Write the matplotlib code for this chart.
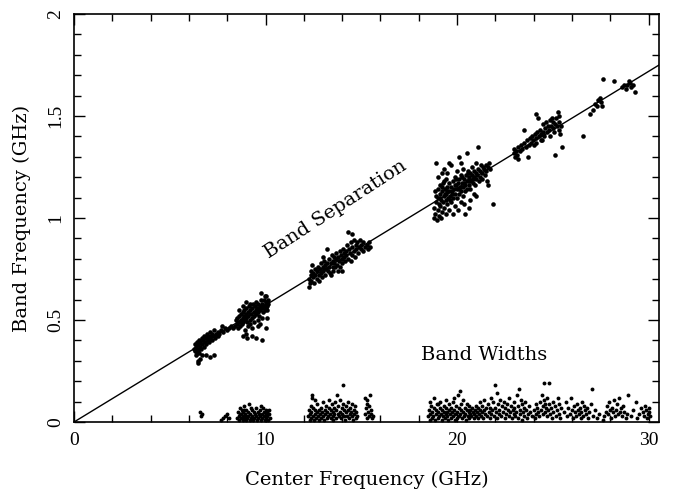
import matplotlib
matplotlib.use("Agg")
import matplotlib.pyplot as plt
from matplotlib.ticker import MultipleLocator

# ---------------- data ----------------
sep_a = [(6.25,0.36),(6.3,0.35),(6.3,0.38),(6.35,0.37),(6.4,0.34),(6.4,0.39),(6.45,0.36),(6.5,0.38),(6.5,0.35),
         (6.55,0.40),(6.6,0.37),(6.6,0.39),(6.65,0.36),(6.7,0.41),(6.7,0.38),(6.75,0.40),(6.8,0.37),(6.8,0.42),
         (6.85,0.39),(6.9,0.41),(6.9,0.38),(6.95,0.43),(7.0,0.40),(7.0,0.42),(7.05,0.39),(7.1,0.41),(7.1,0.44),
         (7.15,0.42),(7.2,0.40),(7.2,0.43),(7.3,0.42),(7.3,0.45),(7.35,0.41),(7.4,0.43),(7.5,0.42),(7.5,0.44),
         (7.55,0.43),(6.45,0.30),(6.5,0.29),(6.6,0.31),(6.7,0.33),(6.9,0.33),(7.1,0.32),(7.3,0.33),(6.35,0.33),
         (6.55,0.34),(7.7,0.45),(7.8,0.44),(7.9,0.46),(8.0,0.45),(8.1,0.46),(8.2,0.47),(8.3,0.46),(7.75,0.47)]
sep_b = [(8.4,0.47),(8.45,0.50),(8.5,0.48),(8.5,0.51),(8.55,0.46),(8.6,0.49),(8.6,0.52),(8.65,0.47),(8.7,0.50),
         (8.7,0.53),(8.75,0.48),(8.8,0.51),(8.8,0.54),(8.85,0.49),(8.9,0.52),(8.9,0.55),(8.95,0.50),(9.0,0.53),
         (9.0,0.51),(9.0,0.56),(9.05,0.49),(9.1,0.54),(9.1,0.52),(9.15,0.57),(9.2,0.50),(9.2,0.55),(9.25,0.53),
         (9.3,0.56),(9.3,0.51),(9.35,0.58),(9.4,0.54),(9.4,0.52),(9.45,0.57),(9.5,0.55),(9.5,0.53),(9.5,0.59),
         (9.55,0.56),(9.6,0.54),(9.6,0.58),(9.65,0.52),(9.7,0.57),(9.7,0.55),(9.75,0.60),(9.8,0.56),(9.8,0.58),
         (9.85,0.54),(9.9,0.57),(9.9,0.60),(9.95,0.55),(10.0,0.58),(10.0,0.56),(10.05,0.59),(10.1,0.57),
         (10.15,0.60),(10.1,0.55),(9.75,0.63),(9.95,0.62),(10.05,0.62),(10.15,0.58),(9.2,0.48),(9.4,0.49),
         (9.6,0.50),(9.1,0.47),(8.95,0.45),(9.3,0.46),(9.7,0.48),(9.8,0.51),(10.1,0.51),(9.6,0.47),
         (8.85,0.42),(9.05,0.41),(9.3,0.42),(9.5,0.41),(9.8,0.40),(9.0,0.43),(10.0,0.46),
         (8.6,0.55),(8.8,0.57),(9.2,0.58),(9.0,0.59)]
sep_c = [(12.25,0.66),(12.25,0.70),(12.3,0.68),(12.35,0.72),(12.4,0.69),(12.4,0.74),(12.5,0.71),(12.5,0.73),
         (12.55,0.68),(12.6,0.75),(12.6,0.72),(12.7,0.70),(12.7,0.74),(12.75,0.76),(12.8,0.72),(12.85,0.75),
         (12.9,0.73),(12.9,0.78),(12.95,0.71),(13.0,0.76),(13.0,0.74),(13.05,0.79),(13.1,0.72),(13.1,0.77),
         (13.15,0.75),(13.2,0.85),(13.2,0.78),(13.25,0.74),(13.3,0.76),(13.3,0.80),(13.35,0.73),(13.4,0.78),
         (13.45,0.82),(13.5,0.76),(13.5,0.79),(13.55,0.74),(13.6,0.81),(13.6,0.78),(13.65,0.76),(13.7,0.80),
         (13.7,0.83),(13.75,0.77),(13.8,0.81),(13.85,0.79),(13.9,0.84),(13.9,0.76),(13.95,0.82),(14.0,0.80),
         (14.0,0.78),(14.05,0.85),(14.1,0.81),(14.1,0.83),(14.15,0.79),(14.2,0.84),(14.2,0.82),(14.25,0.87),
         (14.3,0.93),(14.3,0.80),(14.35,0.85),(14.4,0.83),(14.45,0.88),(14.5,0.92),(14.5,0.82),(14.5,0.86),
         (14.6,0.84),(14.6,0.89),(14.65,0.81),(14.7,0.87),(14.75,0.85),(14.8,0.88),(14.85,0.83),(14.9,0.86),
         (14.95,0.89),(15.0,0.85),(15.0,0.87),(15.1,0.88),(15.1,0.84),(15.2,0.86),(15.3,0.87),(15.35,0.85),
         (15.4,0.88),(15.45,0.86),(14.0,0.74),(13.4,0.72),(13.8,0.74),(12.8,0.69),(12.45,0.77),(14.45,0.79),
         (13.0,0.81)]
sep_d = [(18.8,1.00),(18.8,1.05),(18.85,1.02),(18.9,1.08),(18.9,1.27),(18.9,1.11),(18.95,0.99),(19.0,1.04),
         (19.0,1.10),(19.0,1.14),(19.05,1.07),(19.05,1.01),(19.1,1.12),(19.1,1.06),(19.1,1.16),(19.15,1.09),
         (19.2,1.03),(19.2,1.13),(19.2,1.22),(19.25,1.08),(19.25,1.17),(19.3,1.11),(19.3,1.05),(19.3,1.24),
         (19.35,1.14),(19.4,1.09),(19.4,1.19),(19.4,1.02),(19.45,1.12),(19.5,1.15),(19.5,1.07),(19.5,1.22),
         (19.55,1.10),(19.6,1.13),(19.6,1.17),(19.6,1.04),(19.65,1.11),(19.7,1.15),(19.7,1.08),(19.7,1.26),
         (19.75,1.13),(19.8,1.18),(19.8,1.10),(19.8,1.02),(19.85,1.14),(19.9,1.12),(19.9,1.20),(19.95,1.16),
         (20.0,1.14),(20.0,1.10),(20.0,1.23),(20.05,1.17),(20.05,1.04),(20.1,1.12),(20.1,1.30),(20.1,1.19),
         (20.15,1.15),(20.2,1.08),(20.2,1.13),(20.2,1.21),(20.25,1.17),(20.3,1.15),(20.3,1.11),(20.3,1.24),
         (20.35,1.19),(20.4,1.16),(20.4,1.13),(20.4,1.02),(20.45,1.21),(20.5,1.18),(20.5,1.32),(20.5,1.14),
         (20.55,1.23),(20.6,1.16),(20.6,1.20),(20.65,1.19),(20.7,1.22),(20.7,1.14),(20.75,1.18),(20.8,1.21),
         (20.8,1.25),(20.85,1.17),(20.9,1.20),(20.9,1.23),(20.95,1.16),(21.0,1.22),(21.0,1.19),(21.0,1.27),
         (21.05,1.21),(21.1,1.24),(21.1,1.35),(21.15,1.18),(21.2,1.23),(21.2,1.20),(21.25,1.26),(21.3,1.22),
         (21.3,1.19),(21.35,1.25),(21.4,1.24),(21.45,1.21),(21.5,1.26),(21.5,1.23),(21.55,1.18),(21.6,1.25),
         (21.65,1.27),(21.7,1.24),(21.9,1.07),(21.6,1.16),(21.0,1.11),(20.7,1.09),(20.9,1.12),(19.6,1.27),
         (19.3,1.18),(19.9,1.06),(20.6,1.05),(20.2,1.27),(19.0,1.20),(18.85,1.13),(19.15,1.00),(20.35,1.07),
         (19.12,1.10),(19.38,1.12),(19.63,1.09),(19.88,1.16),(20.12,1.14),(20.38,1.17),(20.62,1.18),
         (19.22,1.15),(19.48,1.13),(19.72,1.12),(19.97,1.19),(20.27,1.20),(20.58,1.22),(20.83,1.19)]
sep_e = [(22.95,1.32),(23.0,1.34),(23.05,1.30),(23.1,1.33),(23.15,1.31),(23.2,1.29),(23.2,1.35),(23.3,1.33),
         (23.35,1.36),(23.4,1.34),(23.5,1.37),(23.5,1.43),(23.6,1.35),(23.65,1.38),(23.7,1.30),(23.75,1.36),
         (23.8,1.39),(23.85,1.37),(23.9,1.40),(23.95,1.38),(24.0,1.36),(24.05,1.41),(24.1,1.39),(24.15,1.51),
         (24.15,1.37),(24.2,1.42),(24.25,1.49),(24.3,1.40),(24.35,1.43),(24.4,1.41),(24.45,1.38),(24.5,1.42),
         (24.5,1.46),(24.55,1.40),(24.6,1.44),(24.65,1.47),(24.7,1.42),(24.75,1.45),(24.8,1.43),(24.85,1.48),
         (24.9,1.45),(24.95,1.49),(25.0,1.44),(25.0,1.47),(25.05,1.42),(25.1,1.46),(25.1,1.31),(25.15,1.49),
         (25.2,1.45),(25.25,1.52),(25.3,1.47),(25.3,1.43),(25.35,1.50),(25.4,1.41),(25.45,1.45),(25.5,1.35),
         (24.85,1.40),(24.4,1.38)]
sep_f = [(26.6,1.40),(26.95,1.51),(27.1,1.53),(27.2,1.56),(27.3,1.55),(27.35,1.58),(27.45,1.59),(27.5,1.57),
         (27.6,1.68),(27.55,1.55),(28.2,1.67),(28.6,1.64),(28.7,1.65),(28.8,1.63),(28.9,1.65),(29.0,1.67),
         (29.05,1.66),(29.1,1.64),(29.2,1.65),(29.3,1.62)]

bw_1 = [(6.6,0.05),(6.7,0.04),(6.65,0.03),(7.8,0.02),(7.9,0.03),(8.0,0.04),(8.1,0.02),(7.7,0.01)]
bw_2 = [(8.5,0.02),(8.55,0.05),(8.6,0.01),(8.6,0.03),(8.65,0.07),(8.7,0.02),(8.7,0.04),(8.75,0.06),(8.8,0.01),
        (8.8,0.03),(8.85,0.05),(8.9,0.02),(8.9,0.08),(8.95,0.04),(9.0,0.01),(9.0,0.03),(9.0,0.06),(9.05,0.02),
        (9.1,0.05),(9.1,0.03),(9.15,0.09),(9.2,0.01),(9.2,0.04),(9.25,0.02),(9.3,0.06),(9.3,0.03),(9.35,0.01),
        (9.4,0.05),(9.4,0.02),(9.45,0.04),(9.5,0.03),(9.5,0.07),(9.55,0.01),(9.6,0.05),(9.6,0.02),(9.65,0.04),
        (9.7,0.06),(9.7,0.03),(9.75,0.01),(9.8,0.04),(9.8,0.02),(9.85,0.07),(9.9,0.03),(9.9,0.05),(9.95,0.01),
        (10.0,0.04),(10.0,0.02),(10.05,0.06),(10.1,0.03),(10.1,0.05),(10.15,0.01),(10.2,0.04),(10.25,0.02),
        (8.65,0.04),(9.25,0.07),(9.75,0.08),(10.2,0.06),(8.9,0.06)]
bw_3 = [(12.2,0.03),(12.25,0.06),(12.3,0.01),(12.3,0.04),(12.35,0.08),(12.4,0.02),(12.4,0.05),(12.45,0.12),
        (12.5,0.03),(12.5,0.07),(12.55,0.01),(12.6,0.04),(12.6,0.06),(12.65,0.02),(12.7,0.05),(12.7,0.09),
        (12.75,0.03),(12.8,0.01),(12.8,0.06),(12.85,0.04),(12.9,0.02),(12.9,0.07),(12.95,0.05),(13.0,0.03),
        (13.0,0.10),(13.05,0.01),(13.1,0.06),(13.1,0.04),(13.15,0.08),(13.2,0.02),(13.2,0.05),(13.25,0.03),
        (13.3,0.07),(13.3,0.11),(13.35,0.04),(13.4,0.02),(13.4,0.06),(13.45,0.09),(13.5,0.03),(13.5,0.05),
        (13.55,0.01),(13.6,0.07),(13.6,0.04),(13.65,0.10),(13.7,0.02),(13.7,0.06),(13.75,0.13),(13.8,0.04),
        (13.8,0.08),(13.85,0.03),(13.9,0.05),(13.9,0.11),(13.95,0.02),(14.0,0.07),(14.0,0.04),(14.05,0.18),
        (14.05,0.09),(14.1,0.03),(14.1,0.06),(14.15,0.01),(14.2,0.05),(14.2,0.08),(14.25,0.03),(14.3,0.06),
        (14.3,0.10),(14.35,0.02),(14.4,0.04),(14.4,0.07),(14.45,0.05),(14.5,0.03),(14.5,0.09),(14.55,0.01),
        (14.6,0.06),(14.6,0.04),(14.65,0.08),(14.7,0.02),(14.75,0.05),(14.8,0.03),(15.2,0.04),(15.25,0.07),
        (15.3,0.02),(15.3,0.11),(15.35,0.05),(15.4,0.03),(15.4,0.08),(15.45,0.13),(15.5,0.04),(15.5,0.06),
        (15.55,0.02),(15.6,0.03),(15.2,0.12),(15.3,0.09),(12.45,0.13),(12.6,0.11)]
bw_4 = [(18.5,0.03),(18.55,0.06),(18.6,0.01),(18.6,0.04),(18.65,0.08),(18.7,0.02),(18.7,0.05),(18.75,0.03),
        (18.8,0.07),(18.8,0.12),(18.85,0.01),(18.9,0.04),(18.9,0.06),(18.95,0.09),(19.0,0.02),(19.0,0.05),
        (19.05,0.03),(19.1,0.07),(19.1,0.10),(19.15,0.04),(19.2,0.01),(19.2,0.06),(19.25,0.03),(19.3,0.05),
        (19.3,0.08),(19.35,0.02),(19.4,0.04),(19.4,0.07),(19.45,0.11),(19.5,0.03),(19.5,0.05),(19.55,0.01),
        (19.6,0.06),(19.6,0.09),(19.65,0.04),(19.7,0.02),(19.7,0.07),(19.75,0.05),(19.8,0.03),(19.8,0.10),
        (19.85,0.06),(19.9,0.01),(19.9,0.04),(19.95,0.08),(20.0,0.02),(20.0,0.05),(20.05,0.13),(20.1,0.03),
        (20.1,0.07),(20.15,0.15),(20.15,0.04),(20.2,0.06),(20.2,0.09),(20.25,0.02),(20.3,0.05),(20.3,0.11),
        (20.35,0.03),(20.4,0.07),(20.4,0.04),(20.45,0.01),(20.5,0.06),(20.5,0.09),(20.55,0.03),(20.6,0.05),
        (20.6,0.08),(20.65,0.02),(20.7,0.04),(20.7,0.06),(20.75,0.03),(20.8,0.07),(20.85,0.05),(20.9,0.02),
        (20.9,0.04),(20.95,0.06),(21.0,0.03),(21.0,0.08),(21.05,0.05),(21.1,0.02),(21.1,0.07),(21.15,0.04),
        (21.2,0.06),(21.2,0.10),(21.25,0.03),(21.3,0.05),(21.3,0.08),(21.35,0.02),(21.4,0.06),(21.4,0.11),
        (21.45,0.04),(21.5,0.07),(18.6,0.10),(19.0,0.09),(19.85,0.12)]
bw_5 = [(21.55,0.03),(21.6,0.09),(21.65,0.05),(21.7,0.02),(21.7,0.07),(21.75,0.12),(21.8,0.04),(21.85,0.06),
        (21.9,0.10),(21.95,0.03),(22.0,0.18),(22.0,0.07),(22.05,0.05),(22.1,0.14),(22.1,0.02),(22.15,0.09),
        (22.2,0.04),(22.2,0.06),(22.25,0.11),(22.3,0.03),(22.35,0.08),(22.4,0.05),(22.45,0.10),(22.5,0.02),
        (22.5,0.07),(22.55,0.04),(22.6,0.09),(22.65,0.06),(22.7,0.03),(22.7,0.12),(22.75,0.05),(22.8,0.08),
        (22.85,0.02),(22.9,0.06),(22.95,0.04),(23.0,0.10),(23.0,0.07),(23.05,0.03),(23.1,0.05),(23.15,0.13),
        (23.2,0.08),(23.2,0.02),(23.25,0.16),(23.3,0.06),(23.3,0.04),(23.35,0.11),(23.4,0.09),(23.4,0.01),
        (23.45,0.05),(23.5,0.07),(23.5,0.03),(23.55,0.10),(23.6,0.06),(23.65,0.02),(23.7,0.04),(23.75,0.08),
        (23.8,0.05),(23.9,0.03),(24.0,0.06),(24.05,0.02),(24.1,0.09),(24.15,0.04),(24.2,0.07),(24.25,0.05),
        (24.3,0.03),(24.35,0.10),(24.4,0.06),(24.45,0.13),(24.5,0.08),(24.5,0.04),(24.55,0.19),(24.55,0.11),
        (24.6,0.09),(24.6,0.05),(24.65,0.07),(24.7,0.12),(24.7,0.03),(24.75,0.06),(24.8,0.19),(24.8,0.09),
        (24.85,0.04),(24.9,0.07),(24.95,0.02),(25.0,0.10),(25.0,0.05),(25.1,0.08),(25.15,0.03),(25.2,0.06),
        (25.25,0.12),(25.3,0.04),(25.35,0.09),(25.4,0.02),(25.45,0.07)]
bw_6 = [(25.6,0.05),(25.7,0.10),(25.75,0.03),(25.8,0.07),(25.9,0.04),(25.95,0.12),(26.0,0.06),(26.05,0.02),
        (26.1,0.08),(26.15,0.05),(26.2,0.03),(26.25,0.09),(26.3,0.06),(26.35,0.04),(26.4,0.07),(26.45,0.02),
        (26.5,0.05),(26.55,0.10),(26.6,0.03),(26.65,0.08),(26.7,0.06),(26.75,0.04),(26.8,0.07),(26.85,0.02),
        (26.9,0.05),(27.0,0.09),(27.05,0.16),(27.1,0.03),(27.2,0.06),(27.3,0.02),(27.4,0.04),(27.6,0.01),
        (27.7,0.03),(27.8,0.05),(27.85,0.08),(27.9,0.04),(27.95,0.10),(28.0,0.06),(28.05,0.02),(28.1,0.07),
        (28.15,0.05),(28.2,0.11),(28.25,0.03),(28.3,0.06),(28.35,0.09),(28.4,0.04),(28.45,0.12),(28.5,0.05),
        (28.55,0.07),(28.6,0.03),(28.65,0.08),(28.7,0.05),(28.8,0.02),(28.9,0.04),(28.95,0.13),(29.1,0.03),
        (29.2,0.06),(29.35,0.10),(29.4,0.02),(29.5,0.04),(29.6,0.07),(29.7,0.05),(29.75,0.03),(29.8,0.08),
        (29.85,0.06),(29.9,0.02),(29.95,0.04),(30.0,0.07),(30.05,0.05),(30.1,0.03)]

fit_x = [0.0, 30.55]
fit_y = [0.0, 1.75]

x_ticks = [0, 10, 20, 30]
y_ticks = [0, 0.5, 1, 1.5, 2]
y_tick_labels = ["0", "0.5", "1", "1.5", "2"]

# ---------------- plot ----------------
fig = plt.figure(figsize=(6.93, 4.93), dpi=100)
ax = fig.add_axes([0.1068, 0.144, 0.951 - 0.1068, 0.9716 - 0.144])

ax.plot(fit_x, fit_y, color="black", lw=1.0)
for grp in (sep_a, sep_b, sep_c, sep_d, sep_e, sep_f):
    ax.plot([p[0] for p in grp], [p[1] for p in grp], "o", color="black", ms=3.3, mew=0)
for grp in (bw_1, bw_2, bw_3, bw_4, bw_5, bw_6):
    ax.plot([p[0] for p in grp], [p[1] for p in grp], "o", color="black", ms=2.8, mew=0)

ax.set_xlim(0, 30.55)
ax.set_ylim(0, 2)
ax.set_xticks(x_ticks)
ax.set_yticks(y_ticks)
ax.set_yticklabels(y_tick_labels, rotation=90, va="center")
ax.xaxis.set_minor_locator(MultipleLocator(2))
ax.yaxis.set_minor_locator(MultipleLocator(0.1))
ax.tick_params(which="both", direction="in", top=True, right=True, width=1.0, colors="black")
ax.tick_params(which="major", length=8)
ax.tick_params(which="minor", length=5)
ax.tick_params(axis="x", which="major", pad=7)
ax.tick_params(axis="y", which="major", pad=7)
for lab in ax.get_xticklabels() + ax.get_yticklabels():
    lab.set_fontfamily("Liberation Serif")
    lab.set_fontsize(14)
for s in ax.spines.values():
    s.set_linewidth(1.2)

ax.set_xlabel("Center Frequency (GHz)", family="DejaVu Serif", fontsize=14, labelpad=16)
ax.set_ylabel("Band Frequency (GHz)", family="DejaVu Serif", fontsize=14, labelpad=12)

ax.text(13.68, 1.044, "Band Separation", family="DejaVu Serif", fontsize=14,
        rotation=33, ha="center", va="center", rotation_mode="anchor")
ax.text(21.4, 0.328, "Band Widths", family="DejaVu Serif", fontsize=14, ha="center", va="center")

fig.savefig("out.png", dpi=100)
